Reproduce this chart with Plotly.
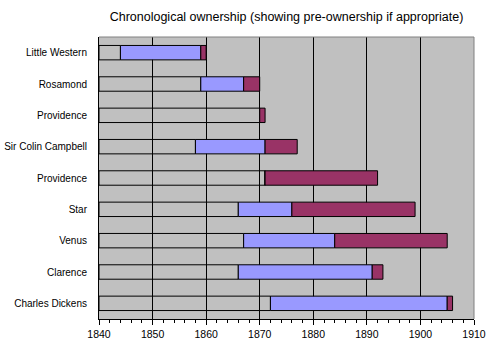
import plotly.graph_objects as go

names = ["Little Western", "Rosamond", "Providence", "Sir Colin Campbell", "Providence",
         "Star", "Venus", "Clarence", "Charles Dickens"]
pre_start = [1844, 1859, 1870, 1858, 1871, 1866, 1867, 1866, 1872]
own_start = [1859, 1867, 1870, 1871, 1871, 1876, 1884, 1891, 1905]
own_end = [1860, 1870, 1871, 1877, 1892, 1899, 1905, 1893, 1906]
axis_start = 1840
x_ticks = [1840, 1850, 1860, 1870, 1880, 1890, 1900, 1910]

ypos = list(range(len(names)))
grey_len = [s - axis_start for s in pre_start]
blue_len = [o - s for s, o in zip(pre_start, own_start)]
red_len = [e - o for o, e in zip(own_start, own_end)]

font = "Liberation Sans, Arial, sans-serif"
bw = 0.46

fig = go.Figure()
fig.add_trace(go.Bar(y=ypos, x=grey_len, base=[axis_start] * len(names), orientation="h",
                     width=bw, marker=dict(color="rgba(0,0,0,0)", line=dict(color="black", width=1)),
                     showlegend=False))
fig.add_trace(go.Bar(y=ypos, x=blue_len, base=pre_start, orientation="h",
                     width=bw, marker=dict(color="#9999FF", line=dict(color="black", width=1)),
                     showlegend=False))
fig.add_trace(go.Bar(y=ypos, x=red_len, base=own_start, orientation="h",
                     width=bw, marker=dict(color="#993366", line=dict(color="black", width=1)),
                     showlegend=False))

fig.update_layout(
    width=500, height=346,
    margin=dict(l=99, r=26, t=37, b=27),
    paper_bgcolor="white", plot_bgcolor="#C0C0C0",
    barmode="overlay",
    font=dict(family=font, size=10, color="black"),
    title=dict(text="Chronological ownership (showing pre-ownership if appropriate)",
               x=0.573, xanchor="center", y=0.951, yanchor="middle",
               font=dict(family=font, size=12.5, color="black")),
    xaxis=dict(range=[1840, 1910], tickvals=x_ticks, ticktext=[str(t) for t in x_ticks],
               showgrid=True, gridcolor="black", gridwidth=1,
               showline=True, linecolor="black", linewidth=1,
               ticks="outside", ticklen=5, tickcolor="black",
               minor=dict(dtick=2, tick0=1840, ticks="outside", ticklen=3, tickcolor="black", showgrid=False),
               zeroline=False, tickfont=dict(size=10.5), automargin=False),
    yaxis=dict(range=[len(names) - 0.5, -0.5], tickvals=ypos, ticktext=names,
               showgrid=False, showline=True, linecolor="black", linewidth=1,
               ticks="", ticklabelstandoff=9, zeroline=False, tickfont=dict(size=10),
               automargin=False),
    shapes=[
        dict(type="line", xref="paper", yref="paper", x0=0, x1=1, y0=1, y1=1,
             line=dict(color="#808080", width=1)),
        dict(type="line", xref="paper", yref="paper", x0=1, x1=1, y0=0, y1=1,
             line=dict(color="#808080", width=1)),
    ],
)

fig.write_html("out.html")
